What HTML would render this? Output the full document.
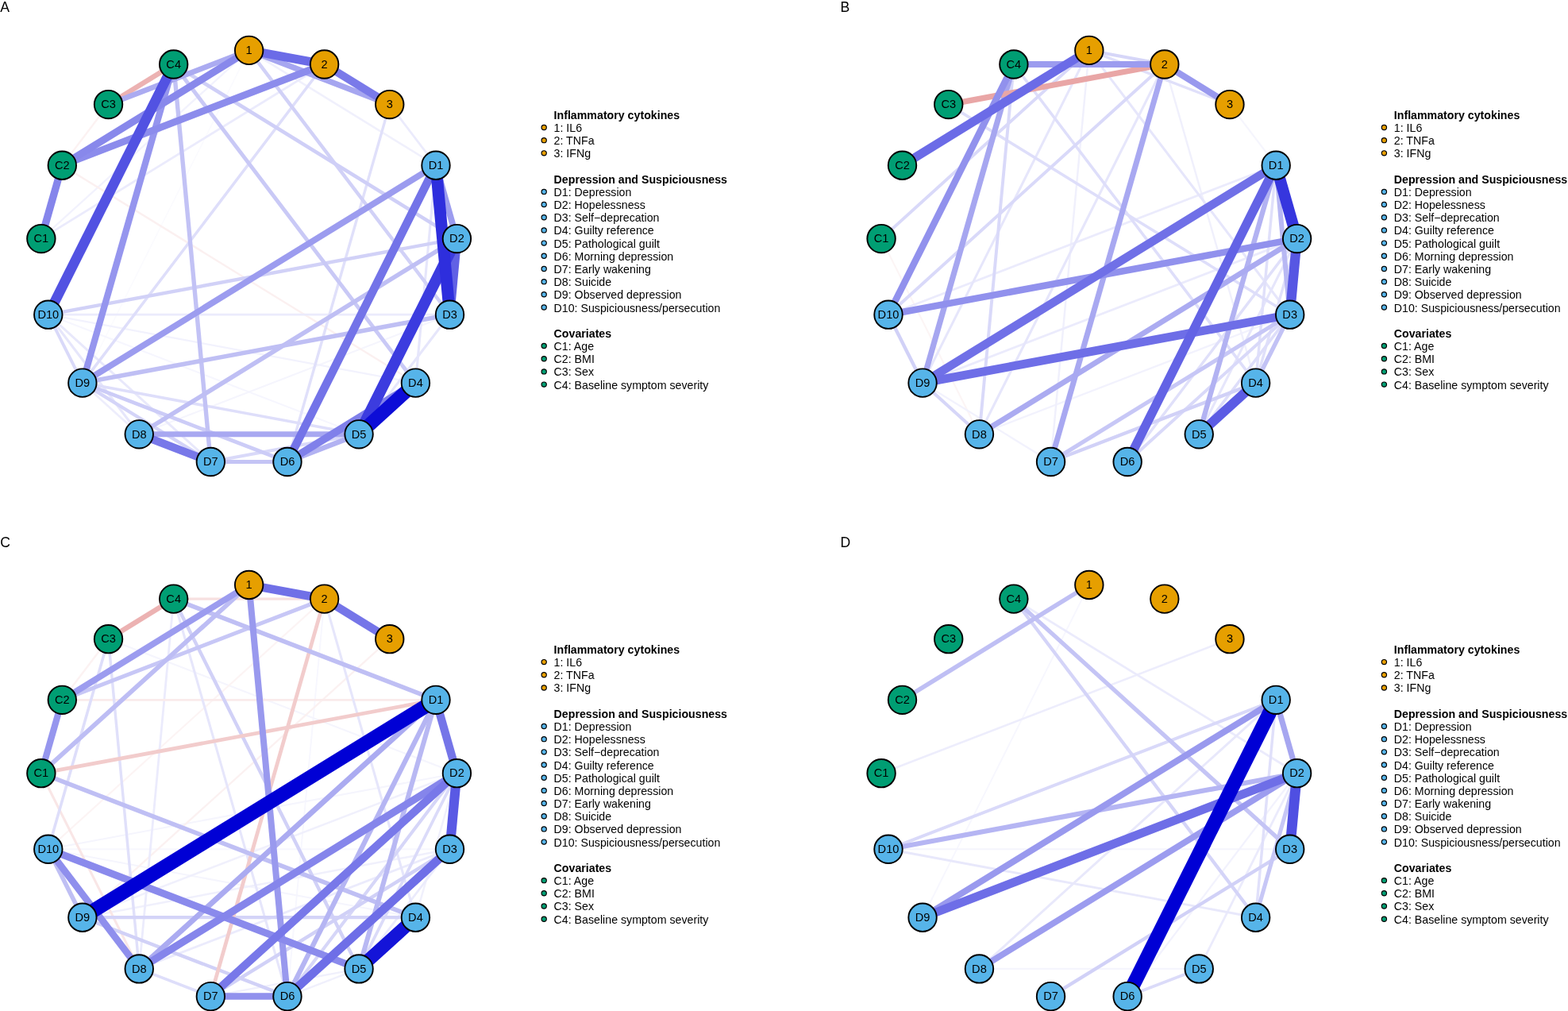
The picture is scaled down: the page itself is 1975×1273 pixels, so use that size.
<!DOCTYPE html>
<html lang="en"><head><meta charset="utf-8"><title>Network figure</title>
<style>html,body{margin:0;padding:0;background:#fff}body{width:1975px;height:1273px;overflow:hidden}svg{display:block}text{font-family:"Liberation Sans",Arial,Helvetica,sans-serif;fill:#000}.n{stroke:#000;stroke-width:1.9}.nl{font-size:14.6px;text-anchor:middle}.lg{font-size:14.20px}.lh{font-size:14.20px;font-weight:bold}.ld{stroke:#000;stroke-width:1.2}.pt{font-size:17.6px}.e{fill:none;stroke-linecap:butt}</style></head><body>
<svg width="1975" height="1273" viewBox="0 0 1975 1273">
<rect width="1975" height="1273" fill="#fff"/>
<g transform="translate(0,0)">
<text class="pt" x="0.2" y="15.40">A</text>
<g class="e">
<line x1="313.6" y1="63.4" x2="103.9" y2="482.1" stroke="#fbfbfe" stroke-width="1.70"/>
<line x1="452.0" y1="546.8" x2="60.8" y2="396.2" stroke="#f6f6fe" stroke-width="2.03"/>
<line x1="566.5" y1="396.2" x2="175.3" y2="546.8" stroke="#f5f5fd" stroke-width="2.11"/>
<line x1="523.4" y1="482.1" x2="60.8" y2="396.2" stroke="#f2f2fd" stroke-width="2.27"/>
<line x1="78.3" y1="208.2" x2="136.5" y2="131.6" stroke="#fcf2f2" stroke-width="2.27"/>
<line x1="313.6" y1="63.4" x2="51.9" y2="300.6" stroke="#f2f2fd" stroke-width="2.27"/>
<line x1="313.6" y1="63.4" x2="549.0" y2="208.2" stroke="#f0f0fc" stroke-width="2.44"/>
<line x1="78.3" y1="208.2" x2="523.4" y2="482.1" stroke="#fbf0f0" stroke-width="2.44"/>
<line x1="175.3" y1="546.8" x2="103.9" y2="482.1" stroke="#ededfc" stroke-width="2.60"/>
<line x1="566.5" y1="396.2" x2="60.8" y2="396.2" stroke="#ebebfc" stroke-width="2.77"/>
<line x1="490.8" y1="131.6" x2="549.0" y2="208.2" stroke="#ebebfc" stroke-width="2.77"/>
<line x1="408.6" y1="81.0" x2="51.9" y2="300.6" stroke="#ebebfc" stroke-width="2.77"/>
<line x1="265.3" y1="581.5" x2="60.8" y2="396.2" stroke="#e8e8fb" stroke-width="2.93"/>
<line x1="175.3" y1="546.8" x2="60.8" y2="396.2" stroke="#e6e6fb" stroke-width="3.09"/>
<line x1="549.0" y1="208.2" x2="523.4" y2="482.1" stroke="#e6e6fb" stroke-width="3.09"/>
<line x1="566.5" y1="396.2" x2="452.0" y2="546.8" stroke="#e6e6fb" stroke-width="3.09"/>
<line x1="490.8" y1="131.6" x2="362.0" y2="581.5" stroke="#e0e0fa" stroke-width="3.42"/>
<line x1="452.0" y1="546.8" x2="103.9" y2="482.1" stroke="#dedefa" stroke-width="3.59"/>
<line x1="408.6" y1="81.0" x2="103.9" y2="482.1" stroke="#dedefa" stroke-width="3.59"/>
<line x1="452.0" y1="546.8" x2="265.3" y2="581.5" stroke="#d9d9f9" stroke-width="3.92"/>
<line x1="103.9" y1="482.1" x2="60.8" y2="396.2" stroke="#d9d9f9" stroke-width="3.92"/>
<line x1="265.3" y1="581.5" x2="103.9" y2="482.1" stroke="#d4d4f8" stroke-width="4.25"/>
<line x1="313.6" y1="63.4" x2="566.5" y2="396.2" stroke="#d1d1f7" stroke-width="4.41"/>
<line x1="575.4" y1="300.6" x2="60.8" y2="396.2" stroke="#d1d1f7" stroke-width="4.41"/>
<line x1="218.7" y1="81.0" x2="575.4" y2="300.6" stroke="#cfcff7" stroke-width="4.58"/>
<line x1="362.0" y1="581.5" x2="103.9" y2="482.1" stroke="#ccccf7" stroke-width="4.74"/>
<line x1="218.7" y1="81.0" x2="523.4" y2="482.1" stroke="#c9c9f6" stroke-width="4.90"/>
<line x1="362.0" y1="581.5" x2="265.3" y2="581.5" stroke="#c4c4f5" stroke-width="5.23"/>
<line x1="218.7" y1="81.0" x2="265.3" y2="581.5" stroke="#c2c2f5" stroke-width="5.40"/>
<line x1="575.4" y1="300.6" x2="175.3" y2="546.8" stroke="#bfbff4" stroke-width="5.56"/>
<line x1="566.5" y1="396.2" x2="103.9" y2="482.1" stroke="#bfbff4" stroke-width="5.56"/>
<line x1="452.0" y1="546.8" x2="362.0" y2="581.5" stroke="#b2b2f2" stroke-width="6.38"/>
<line x1="136.5" y1="131.6" x2="218.7" y2="81.0" stroke="#ecb2b2" stroke-width="6.38"/>
<line x1="313.6" y1="63.4" x2="136.5" y2="131.6" stroke="#ababf1" stroke-width="6.88"/>
<line x1="452.0" y1="546.8" x2="175.3" y2="546.8" stroke="#a8a8f1" stroke-width="7.04"/>
<line x1="313.6" y1="63.4" x2="490.8" y2="131.6" stroke="#a6a6f0" stroke-width="7.21"/>
<line x1="549.0" y1="208.2" x2="103.9" y2="482.1" stroke="#9c9cef" stroke-width="7.87"/>
<line x1="549.0" y1="208.2" x2="575.4" y2="300.6" stroke="#9c9cef" stroke-width="7.87"/>
<line x1="218.7" y1="81.0" x2="103.9" y2="482.1" stroke="#9595ee" stroke-width="8.28"/>
<line x1="408.6" y1="81.0" x2="78.3" y2="208.2" stroke="#8c8cec" stroke-width="8.85"/>
<line x1="313.6" y1="63.4" x2="78.3" y2="208.2" stroke="#8888eb" stroke-width="9.10"/>
<line x1="51.9" y1="300.6" x2="78.3" y2="208.2" stroke="#8585eb" stroke-width="9.35"/>
<line x1="523.4" y1="482.1" x2="362.0" y2="581.5" stroke="#8080ea" stroke-width="9.67"/>
<line x1="408.6" y1="81.0" x2="490.8" y2="131.6" stroke="#7a7ae9" stroke-width="10.00"/>
<line x1="265.3" y1="581.5" x2="175.3" y2="546.8" stroke="#7878e9" stroke-width="10.17"/>
<line x1="549.0" y1="208.2" x2="362.0" y2="581.5" stroke="#7373e8" stroke-width="10.50"/>
<line x1="313.6" y1="63.4" x2="408.6" y2="81.0" stroke="#6b6be7" stroke-width="10.99"/>
<line x1="575.4" y1="300.6" x2="566.5" y2="396.2" stroke="#6161e5" stroke-width="11.65"/>
<line x1="218.7" y1="81.0" x2="60.8" y2="396.2" stroke="#5252e2" stroke-width="12.64"/>
<line x1="575.4" y1="300.6" x2="452.0" y2="546.8" stroke="#3c3cdf" stroke-width="14.03"/>
<line x1="549.0" y1="208.2" x2="566.5" y2="396.2" stroke="#2e2edd" stroke-width="14.94"/>
<line x1="523.4" y1="482.1" x2="452.0" y2="546.8" stroke="#0d0dd7" stroke-width="17.08"/>
</g>
<circle class="n" cx="313.65" cy="63.38" r="17.73" fill="#E69F00"/>
<text class="nl" x="313.65" y="68.08">1</text>
<circle class="n" cx="408.62" cy="81.03" r="17.73" fill="#E69F00"/>
<text class="nl" x="408.62" y="85.73">2</text>
<circle class="n" cx="490.76" cy="131.58" r="17.73" fill="#E69F00"/>
<text class="nl" x="490.76" y="136.28">3</text>
<circle class="n" cx="548.99" cy="208.21" r="17.73" fill="#56B4E9"/>
<text class="nl" x="548.99" y="212.91">D1</text>
<circle class="n" cx="575.43" cy="300.57" r="17.73" fill="#56B4E9"/>
<text class="nl" x="575.43" y="305.27">D2</text>
<circle class="n" cx="566.51" cy="396.19" r="17.73" fill="#56B4E9"/>
<text class="nl" x="566.51" y="400.89">D3</text>
<circle class="n" cx="523.45" cy="482.15" r="17.73" fill="#56B4E9"/>
<text class="nl" x="523.45" y="486.85">D4</text>
<circle class="n" cx="452.05" cy="546.84" r="17.73" fill="#56B4E9"/>
<text class="nl" x="452.05" y="551.54">D5</text>
<circle class="n" cx="361.96" cy="581.53" r="17.73" fill="#56B4E9"/>
<text class="nl" x="361.96" y="586.23">D6</text>
<circle class="n" cx="265.34" cy="581.53" r="17.73" fill="#56B4E9"/>
<text class="nl" x="265.34" y="586.23">D7</text>
<circle class="n" cx="175.25" cy="546.84" r="17.73" fill="#56B4E9"/>
<text class="nl" x="175.25" y="551.54">D8</text>
<circle class="n" cx="103.85" cy="482.15" r="17.73" fill="#56B4E9"/>
<text class="nl" x="103.85" y="486.85">D9</text>
<circle class="n" cx="60.79" cy="396.19" r="17.73" fill="#56B4E9"/>
<text class="nl" x="60.79" y="400.89">D10</text>
<circle class="n" cx="51.87" cy="300.57" r="17.73" fill="#009E73"/>
<text class="nl" x="51.87" y="305.27">C1</text>
<circle class="n" cx="78.31" cy="208.21" r="17.73" fill="#009E73"/>
<text class="nl" x="78.31" y="212.91">C2</text>
<circle class="n" cx="136.54" cy="131.58" r="17.73" fill="#009E73"/>
<text class="nl" x="136.54" y="136.28">C3</text>
<circle class="n" cx="218.68" cy="81.03" r="17.73" fill="#009E73"/>
<text class="nl" x="218.68" y="85.73">C4</text>
<text class="lh" x="697.6" y="149.80">Inflammatory cytokines</text>
<circle class="ld" cx="685.2" cy="160.48" r="3.1" fill="#E69F00"/>
<text class="lg" x="697.6" y="165.98">1: IL6</text>
<circle class="ld" cx="685.2" cy="176.66" r="3.1" fill="#E69F00"/>
<text class="lg" x="697.6" y="182.16">2: TNFa</text>
<circle class="ld" cx="685.2" cy="192.84" r="3.1" fill="#E69F00"/>
<text class="lg" x="697.6" y="198.34">3: IFNg</text>
<text class="lh" x="697.6" y="230.70">Depression and Suspiciousness</text>
<circle class="ld" cx="685.2" cy="241.38" r="3.1" fill="#56B4E9"/>
<text class="lg" x="697.6" y="246.88">D1: Depression</text>
<circle class="ld" cx="685.2" cy="257.56" r="3.1" fill="#56B4E9"/>
<text class="lg" x="697.6" y="263.06">D2: Hopelessness</text>
<circle class="ld" cx="685.2" cy="273.74" r="3.1" fill="#56B4E9"/>
<text class="lg" x="697.6" y="279.24">D3: Self−deprecation</text>
<circle class="ld" cx="685.2" cy="289.92" r="3.1" fill="#56B4E9"/>
<text class="lg" x="697.6" y="295.42">D4: Guilty reference</text>
<circle class="ld" cx="685.2" cy="306.10" r="3.1" fill="#56B4E9"/>
<text class="lg" x="697.6" y="311.60">D5: Pathological guilt</text>
<circle class="ld" cx="685.2" cy="322.28" r="3.1" fill="#56B4E9"/>
<text class="lg" x="697.6" y="327.78">D6: Morning depression</text>
<circle class="ld" cx="685.2" cy="338.46" r="3.1" fill="#56B4E9"/>
<text class="lg" x="697.6" y="343.96">D7: Early wakening</text>
<circle class="ld" cx="685.2" cy="354.64" r="3.1" fill="#56B4E9"/>
<text class="lg" x="697.6" y="360.14">D8: Suicide</text>
<circle class="ld" cx="685.2" cy="370.82" r="3.1" fill="#56B4E9"/>
<text class="lg" x="697.6" y="376.32">D9: Observed depression</text>
<circle class="ld" cx="685.2" cy="387.00" r="3.1" fill="#56B4E9"/>
<text class="lg" x="697.6" y="392.50">D10: Suspiciousness/persecution</text>
<text class="lh" x="697.6" y="424.86">Covariates</text>
<circle class="ld" cx="685.2" cy="435.54" r="3.1" fill="#009E73"/>
<text class="lg" x="697.6" y="441.04">C1: Age</text>
<circle class="ld" cx="685.2" cy="451.72" r="3.1" fill="#009E73"/>
<text class="lg" x="697.6" y="457.22">C2: BMI</text>
<circle class="ld" cx="685.2" cy="467.90" r="3.1" fill="#009E73"/>
<text class="lg" x="697.6" y="473.40">C3: Sex</text>
<circle class="ld" cx="685.2" cy="484.08" r="3.1" fill="#009E73"/>
<text class="lg" x="697.6" y="489.58">C4: Baseline symptom severity</text>
</g>
<g transform="translate(1058.2,0)">
<text class="pt" x="0.2" y="15.40">B</text>
<g class="e">
<line x1="51.9" y1="300.6" x2="175.3" y2="546.8" stroke="#fcf5f5" stroke-width="2.11"/>
<line x1="490.8" y1="131.6" x2="549.0" y2="208.2" stroke="#f5f5fd" stroke-width="2.11"/>
<line x1="566.5" y1="396.2" x2="175.3" y2="546.8" stroke="#f2f2fd" stroke-width="2.27"/>
<line x1="265.3" y1="581.5" x2="103.9" y2="482.1" stroke="#f2f2fd" stroke-width="2.27"/>
<line x1="313.6" y1="63.4" x2="265.3" y2="581.5" stroke="#f0f0fc" stroke-width="2.44"/>
<line x1="408.6" y1="81.0" x2="523.4" y2="482.1" stroke="#f0f0fc" stroke-width="2.44"/>
<line x1="549.0" y1="208.2" x2="60.8" y2="396.2" stroke="#ebebfc" stroke-width="2.77"/>
<line x1="575.4" y1="300.6" x2="103.9" y2="482.1" stroke="#ebebfc" stroke-width="2.77"/>
<line x1="313.6" y1="63.4" x2="103.9" y2="482.1" stroke="#e6e6fb" stroke-width="3.09"/>
<line x1="313.6" y1="63.4" x2="566.5" y2="396.2" stroke="#e6e6fb" stroke-width="3.09"/>
<line x1="408.6" y1="81.0" x2="175.3" y2="546.8" stroke="#e6e6fb" stroke-width="3.09"/>
<line x1="575.4" y1="300.6" x2="452.0" y2="546.8" stroke="#e6e6fb" stroke-width="3.09"/>
<line x1="549.0" y1="208.2" x2="523.4" y2="482.1" stroke="#e0e0fa" stroke-width="3.42"/>
<line x1="313.6" y1="63.4" x2="490.8" y2="131.6" stroke="#e0e0fa" stroke-width="3.42"/>
<line x1="575.4" y1="300.6" x2="362.0" y2="581.5" stroke="#e0e0fa" stroke-width="3.42"/>
<line x1="575.4" y1="300.6" x2="523.4" y2="482.1" stroke="#e0e0fa" stroke-width="3.42"/>
<line x1="136.5" y1="131.6" x2="566.5" y2="396.2" stroke="#dedefa" stroke-width="3.59"/>
<line x1="218.7" y1="81.0" x2="523.4" y2="482.1" stroke="#dedefa" stroke-width="3.59"/>
<line x1="566.5" y1="396.2" x2="452.0" y2="546.8" stroke="#dedefa" stroke-width="3.59"/>
<line x1="313.6" y1="63.4" x2="51.9" y2="300.6" stroke="#d9d9f9" stroke-width="3.92"/>
<line x1="218.7" y1="81.0" x2="175.3" y2="546.8" stroke="#d9d9f9" stroke-width="3.92"/>
<line x1="408.6" y1="81.0" x2="60.8" y2="396.2" stroke="#d9d9f9" stroke-width="3.92"/>
<line x1="566.5" y1="396.2" x2="362.0" y2="581.5" stroke="#d9d9f9" stroke-width="3.92"/>
<line x1="313.6" y1="63.4" x2="408.6" y2="81.0" stroke="#d6d6f8" stroke-width="4.08"/>
<line x1="175.3" y1="546.8" x2="103.9" y2="482.1" stroke="#d6d6f8" stroke-width="4.08"/>
<line x1="523.4" y1="482.1" x2="265.3" y2="581.5" stroke="#d1d1f7" stroke-width="4.41"/>
<line x1="103.9" y1="482.1" x2="60.8" y2="396.2" stroke="#d1d1f7" stroke-width="4.41"/>
<line x1="566.5" y1="396.2" x2="265.3" y2="581.5" stroke="#c7c7f6" stroke-width="5.07"/>
<line x1="566.5" y1="396.2" x2="523.4" y2="482.1" stroke="#c2c2f5" stroke-width="5.40"/>
<line x1="549.0" y1="208.2" x2="566.5" y2="396.2" stroke="#b8b8f3" stroke-width="6.06"/>
<line x1="549.0" y1="208.2" x2="452.0" y2="546.8" stroke="#b2b2f2" stroke-width="6.38"/>
<line x1="575.4" y1="300.6" x2="175.3" y2="546.8" stroke="#ababf1" stroke-width="6.88"/>
<line x1="408.6" y1="81.0" x2="265.3" y2="581.5" stroke="#a8a8f1" stroke-width="7.04"/>
<line x1="218.7" y1="81.0" x2="103.9" y2="482.1" stroke="#a6a6f0" stroke-width="7.21"/>
<line x1="408.6" y1="81.0" x2="136.5" y2="131.6" stroke="#e9a6a6" stroke-width="7.21"/>
<line x1="408.6" y1="81.0" x2="218.7" y2="81.0" stroke="#9c9cef" stroke-width="7.87"/>
<line x1="408.6" y1="81.0" x2="490.8" y2="131.6" stroke="#9999ee" stroke-width="8.03"/>
<line x1="575.4" y1="300.6" x2="60.8" y2="396.2" stroke="#9191ed" stroke-width="8.52"/>
<line x1="218.7" y1="81.0" x2="60.8" y2="396.2" stroke="#9191ed" stroke-width="8.52"/>
<line x1="549.0" y1="208.2" x2="103.9" y2="482.1" stroke="#7070e7" stroke-width="10.66"/>
<line x1="566.5" y1="396.2" x2="103.9" y2="482.1" stroke="#6e6ee7" stroke-width="10.83"/>
<line x1="313.6" y1="63.4" x2="78.3" y2="208.2" stroke="#6b6be7" stroke-width="10.99"/>
<line x1="549.0" y1="208.2" x2="362.0" y2="581.5" stroke="#6363e5" stroke-width="11.48"/>
<line x1="523.4" y1="482.1" x2="452.0" y2="546.8" stroke="#5c5ce4" stroke-width="11.98"/>
<line x1="575.4" y1="300.6" x2="566.5" y2="396.2" stroke="#5757e3" stroke-width="12.31"/>
<line x1="549.0" y1="208.2" x2="575.4" y2="300.6" stroke="#3636de" stroke-width="14.45"/>
</g>
<circle class="n" cx="313.65" cy="63.38" r="17.73" fill="#E69F00"/>
<text class="nl" x="313.65" y="68.08">1</text>
<circle class="n" cx="408.62" cy="81.03" r="17.73" fill="#E69F00"/>
<text class="nl" x="408.62" y="85.73">2</text>
<circle class="n" cx="490.76" cy="131.58" r="17.73" fill="#E69F00"/>
<text class="nl" x="490.76" y="136.28">3</text>
<circle class="n" cx="548.99" cy="208.21" r="17.73" fill="#56B4E9"/>
<text class="nl" x="548.99" y="212.91">D1</text>
<circle class="n" cx="575.43" cy="300.57" r="17.73" fill="#56B4E9"/>
<text class="nl" x="575.43" y="305.27">D2</text>
<circle class="n" cx="566.51" cy="396.19" r="17.73" fill="#56B4E9"/>
<text class="nl" x="566.51" y="400.89">D3</text>
<circle class="n" cx="523.45" cy="482.15" r="17.73" fill="#56B4E9"/>
<text class="nl" x="523.45" y="486.85">D4</text>
<circle class="n" cx="452.05" cy="546.84" r="17.73" fill="#56B4E9"/>
<text class="nl" x="452.05" y="551.54">D5</text>
<circle class="n" cx="361.96" cy="581.53" r="17.73" fill="#56B4E9"/>
<text class="nl" x="361.96" y="586.23">D6</text>
<circle class="n" cx="265.34" cy="581.53" r="17.73" fill="#56B4E9"/>
<text class="nl" x="265.34" y="586.23">D7</text>
<circle class="n" cx="175.25" cy="546.84" r="17.73" fill="#56B4E9"/>
<text class="nl" x="175.25" y="551.54">D8</text>
<circle class="n" cx="103.85" cy="482.15" r="17.73" fill="#56B4E9"/>
<text class="nl" x="103.85" y="486.85">D9</text>
<circle class="n" cx="60.79" cy="396.19" r="17.73" fill="#56B4E9"/>
<text class="nl" x="60.79" y="400.89">D10</text>
<circle class="n" cx="51.87" cy="300.57" r="17.73" fill="#009E73"/>
<text class="nl" x="51.87" y="305.27">C1</text>
<circle class="n" cx="78.31" cy="208.21" r="17.73" fill="#009E73"/>
<text class="nl" x="78.31" y="212.91">C2</text>
<circle class="n" cx="136.54" cy="131.58" r="17.73" fill="#009E73"/>
<text class="nl" x="136.54" y="136.28">C3</text>
<circle class="n" cx="218.68" cy="81.03" r="17.73" fill="#009E73"/>
<text class="nl" x="218.68" y="85.73">C4</text>
<text class="lh" x="697.6" y="149.80">Inflammatory cytokines</text>
<circle class="ld" cx="685.2" cy="160.48" r="3.1" fill="#E69F00"/>
<text class="lg" x="697.6" y="165.98">1: IL6</text>
<circle class="ld" cx="685.2" cy="176.66" r="3.1" fill="#E69F00"/>
<text class="lg" x="697.6" y="182.16">2: TNFa</text>
<circle class="ld" cx="685.2" cy="192.84" r="3.1" fill="#E69F00"/>
<text class="lg" x="697.6" y="198.34">3: IFNg</text>
<text class="lh" x="697.6" y="230.70">Depression and Suspiciousness</text>
<circle class="ld" cx="685.2" cy="241.38" r="3.1" fill="#56B4E9"/>
<text class="lg" x="697.6" y="246.88">D1: Depression</text>
<circle class="ld" cx="685.2" cy="257.56" r="3.1" fill="#56B4E9"/>
<text class="lg" x="697.6" y="263.06">D2: Hopelessness</text>
<circle class="ld" cx="685.2" cy="273.74" r="3.1" fill="#56B4E9"/>
<text class="lg" x="697.6" y="279.24">D3: Self−deprecation</text>
<circle class="ld" cx="685.2" cy="289.92" r="3.1" fill="#56B4E9"/>
<text class="lg" x="697.6" y="295.42">D4: Guilty reference</text>
<circle class="ld" cx="685.2" cy="306.10" r="3.1" fill="#56B4E9"/>
<text class="lg" x="697.6" y="311.60">D5: Pathological guilt</text>
<circle class="ld" cx="685.2" cy="322.28" r="3.1" fill="#56B4E9"/>
<text class="lg" x="697.6" y="327.78">D6: Morning depression</text>
<circle class="ld" cx="685.2" cy="338.46" r="3.1" fill="#56B4E9"/>
<text class="lg" x="697.6" y="343.96">D7: Early wakening</text>
<circle class="ld" cx="685.2" cy="354.64" r="3.1" fill="#56B4E9"/>
<text class="lg" x="697.6" y="360.14">D8: Suicide</text>
<circle class="ld" cx="685.2" cy="370.82" r="3.1" fill="#56B4E9"/>
<text class="lg" x="697.6" y="376.32">D9: Observed depression</text>
<circle class="ld" cx="685.2" cy="387.00" r="3.1" fill="#56B4E9"/>
<text class="lg" x="697.6" y="392.50">D10: Suspiciousness/persecution</text>
<text class="lh" x="697.6" y="424.86">Covariates</text>
<circle class="ld" cx="685.2" cy="435.54" r="3.1" fill="#009E73"/>
<text class="lg" x="697.6" y="441.04">C1: Age</text>
<circle class="ld" cx="685.2" cy="451.72" r="3.1" fill="#009E73"/>
<text class="lg" x="697.6" y="457.22">C2: BMI</text>
<circle class="ld" cx="685.2" cy="467.90" r="3.1" fill="#009E73"/>
<text class="lg" x="697.6" y="473.40">C3: Sex</text>
<circle class="ld" cx="685.2" cy="484.08" r="3.1" fill="#009E73"/>
<text class="lg" x="697.6" y="489.58">C4: Baseline symptom severity</text>
</g>
<g transform="translate(0,673.1)">
<text class="pt" x="0.2" y="15.50">C</text>
<g class="e">
<line x1="408.6" y1="81.0" x2="362.0" y2="581.5" stroke="#f7f7fe" stroke-width="1.94"/>
<line x1="566.5" y1="396.2" x2="60.8" y2="396.2" stroke="#f7f7fe" stroke-width="1.94"/>
<line x1="136.5" y1="131.6" x2="575.4" y2="300.6" stroke="#f5f5fd" stroke-width="2.11"/>
<line x1="575.4" y1="300.6" x2="60.8" y2="396.2" stroke="#f5f5fd" stroke-width="2.11"/>
<line x1="523.4" y1="482.1" x2="60.8" y2="396.2" stroke="#f5f5fd" stroke-width="2.11"/>
<line x1="408.6" y1="81.0" x2="60.8" y2="396.2" stroke="#fcf4f4" stroke-width="2.19"/>
<line x1="78.3" y1="208.2" x2="136.5" y2="131.6" stroke="#fcf2f2" stroke-width="2.27"/>
<line x1="490.8" y1="131.6" x2="103.9" y2="482.1" stroke="#fbf1f1" stroke-width="2.35"/>
<line x1="575.4" y1="300.6" x2="523.4" y2="482.1" stroke="#f0f0fc" stroke-width="2.44"/>
<line x1="575.4" y1="300.6" x2="103.9" y2="482.1" stroke="#f0f0fc" stroke-width="2.44"/>
<line x1="566.5" y1="396.2" x2="103.9" y2="482.1" stroke="#f0f0fc" stroke-width="2.44"/>
<line x1="452.0" y1="546.8" x2="362.0" y2="581.5" stroke="#f0f0fc" stroke-width="2.44"/>
<line x1="452.0" y1="546.8" x2="265.3" y2="581.5" stroke="#f0f0fc" stroke-width="2.44"/>
<line x1="218.7" y1="81.0" x2="175.3" y2="546.8" stroke="#ebebfc" stroke-width="2.77"/>
<line x1="566.5" y1="396.2" x2="175.3" y2="546.8" stroke="#ebebfc" stroke-width="2.77"/>
<line x1="566.5" y1="396.2" x2="452.0" y2="546.8" stroke="#ebebfc" stroke-width="2.77"/>
<line x1="78.3" y1="208.2" x2="549.0" y2="208.2" stroke="#faebeb" stroke-width="2.77"/>
<line x1="51.9" y1="300.6" x2="175.3" y2="546.8" stroke="#f9e6e6" stroke-width="3.09"/>
<line x1="408.6" y1="81.0" x2="523.4" y2="482.1" stroke="#e6e6fb" stroke-width="3.09"/>
<line x1="218.7" y1="81.0" x2="362.0" y2="581.5" stroke="#e6e6fb" stroke-width="3.09"/>
<line x1="136.5" y1="131.6" x2="175.3" y2="546.8" stroke="#e0e0fa" stroke-width="3.42"/>
<line x1="408.6" y1="81.0" x2="218.7" y2="81.0" stroke="#f7e0e0" stroke-width="3.42"/>
<line x1="136.5" y1="131.6" x2="60.8" y2="396.2" stroke="#dedefa" stroke-width="3.59"/>
<line x1="265.3" y1="581.5" x2="175.3" y2="546.8" stroke="#dedefa" stroke-width="3.59"/>
<line x1="575.4" y1="300.6" x2="452.0" y2="546.8" stroke="#dbdbf9" stroke-width="3.75"/>
<line x1="575.4" y1="300.6" x2="362.0" y2="581.5" stroke="#d6d6f8" stroke-width="4.08"/>
<line x1="523.4" y1="482.1" x2="103.9" y2="482.1" stroke="#d4d4f8" stroke-width="4.25"/>
<line x1="218.7" y1="81.0" x2="452.0" y2="546.8" stroke="#d1d1f7" stroke-width="4.41"/>
<line x1="566.5" y1="396.2" x2="265.3" y2="581.5" stroke="#d1d1f7" stroke-width="4.41"/>
<line x1="362.0" y1="581.5" x2="103.9" y2="482.1" stroke="#d1d1f7" stroke-width="4.41"/>
<line x1="51.9" y1="300.6" x2="549.0" y2="208.2" stroke="#f2cccc" stroke-width="4.74"/>
<line x1="408.6" y1="81.0" x2="265.3" y2="581.5" stroke="#f2cccc" stroke-width="4.74"/>
<line x1="408.6" y1="81.0" x2="78.3" y2="208.2" stroke="#c7c7f6" stroke-width="5.07"/>
<line x1="51.9" y1="300.6" x2="523.4" y2="482.1" stroke="#bfbff4" stroke-width="5.56"/>
<line x1="218.7" y1="81.0" x2="549.0" y2="208.2" stroke="#bfbff4" stroke-width="5.56"/>
<line x1="103.9" y1="482.1" x2="60.8" y2="396.2" stroke="#bfbff4" stroke-width="5.56"/>
<line x1="313.6" y1="63.4" x2="51.9" y2="300.6" stroke="#bdbdf4" stroke-width="5.73"/>
<line x1="549.0" y1="208.2" x2="452.0" y2="546.8" stroke="#b8b8f3" stroke-width="6.06"/>
<line x1="549.0" y1="208.2" x2="362.0" y2="581.5" stroke="#b5b5f3" stroke-width="6.22"/>
<line x1="136.5" y1="131.6" x2="218.7" y2="81.0" stroke="#ecb2b2" stroke-width="6.38"/>
<line x1="549.0" y1="208.2" x2="175.3" y2="546.8" stroke="#ababf1" stroke-width="6.88"/>
<line x1="313.6" y1="63.4" x2="78.3" y2="208.2" stroke="#9c9cef" stroke-width="7.87"/>
<line x1="313.6" y1="63.4" x2="362.0" y2="581.5" stroke="#9999ee" stroke-width="8.03"/>
<line x1="51.9" y1="300.6" x2="78.3" y2="208.2" stroke="#9696ee" stroke-width="8.19"/>
<line x1="362.0" y1="581.5" x2="265.3" y2="581.5" stroke="#9191ed" stroke-width="8.52"/>
<line x1="175.3" y1="546.8" x2="60.8" y2="396.2" stroke="#8f8fed" stroke-width="8.69"/>
<line x1="452.0" y1="546.8" x2="60.8" y2="396.2" stroke="#8a8aec" stroke-width="9.02"/>
<line x1="575.4" y1="300.6" x2="175.3" y2="546.8" stroke="#8585eb" stroke-width="9.35"/>
<line x1="575.4" y1="300.6" x2="265.3" y2="581.5" stroke="#7878e9" stroke-width="10.17"/>
<line x1="408.6" y1="81.0" x2="490.8" y2="131.6" stroke="#7575e8" stroke-width="10.33"/>
<line x1="549.0" y1="208.2" x2="575.4" y2="300.6" stroke="#7575e8" stroke-width="10.33"/>
<line x1="313.6" y1="63.4" x2="408.6" y2="81.0" stroke="#7070e7" stroke-width="10.66"/>
<line x1="566.5" y1="396.2" x2="362.0" y2="581.5" stroke="#6e6ee7" stroke-width="10.83"/>
<line x1="575.4" y1="300.6" x2="566.5" y2="396.2" stroke="#5959e4" stroke-width="12.14"/>
<line x1="523.4" y1="482.1" x2="452.0" y2="546.8" stroke="#1414d8" stroke-width="16.58"/>
<line x1="549.0" y1="208.2" x2="103.9" y2="482.1" stroke="#0000d5" stroke-width="17.90"/>
</g>
<circle class="n" cx="313.65" cy="63.38" r="17.73" fill="#E69F00"/>
<text class="nl" x="313.65" y="68.08">1</text>
<circle class="n" cx="408.62" cy="81.03" r="17.73" fill="#E69F00"/>
<text class="nl" x="408.62" y="85.73">2</text>
<circle class="n" cx="490.76" cy="131.58" r="17.73" fill="#E69F00"/>
<text class="nl" x="490.76" y="136.28">3</text>
<circle class="n" cx="548.99" cy="208.21" r="17.73" fill="#56B4E9"/>
<text class="nl" x="548.99" y="212.91">D1</text>
<circle class="n" cx="575.43" cy="300.57" r="17.73" fill="#56B4E9"/>
<text class="nl" x="575.43" y="305.27">D2</text>
<circle class="n" cx="566.51" cy="396.19" r="17.73" fill="#56B4E9"/>
<text class="nl" x="566.51" y="400.89">D3</text>
<circle class="n" cx="523.45" cy="482.15" r="17.73" fill="#56B4E9"/>
<text class="nl" x="523.45" y="486.85">D4</text>
<circle class="n" cx="452.05" cy="546.84" r="17.73" fill="#56B4E9"/>
<text class="nl" x="452.05" y="551.54">D5</text>
<circle class="n" cx="361.96" cy="581.53" r="17.73" fill="#56B4E9"/>
<text class="nl" x="361.96" y="586.23">D6</text>
<circle class="n" cx="265.34" cy="581.53" r="17.73" fill="#56B4E9"/>
<text class="nl" x="265.34" y="586.23">D7</text>
<circle class="n" cx="175.25" cy="546.84" r="17.73" fill="#56B4E9"/>
<text class="nl" x="175.25" y="551.54">D8</text>
<circle class="n" cx="103.85" cy="482.15" r="17.73" fill="#56B4E9"/>
<text class="nl" x="103.85" y="486.85">D9</text>
<circle class="n" cx="60.79" cy="396.19" r="17.73" fill="#56B4E9"/>
<text class="nl" x="60.79" y="400.89">D10</text>
<circle class="n" cx="51.87" cy="300.57" r="17.73" fill="#009E73"/>
<text class="nl" x="51.87" y="305.27">C1</text>
<circle class="n" cx="78.31" cy="208.21" r="17.73" fill="#009E73"/>
<text class="nl" x="78.31" y="212.91">C2</text>
<circle class="n" cx="136.54" cy="131.58" r="17.73" fill="#009E73"/>
<text class="nl" x="136.54" y="136.28">C3</text>
<circle class="n" cx="218.68" cy="81.03" r="17.73" fill="#009E73"/>
<text class="nl" x="218.68" y="85.73">C4</text>
<text class="lh" x="697.6" y="149.80">Inflammatory cytokines</text>
<circle class="ld" cx="685.2" cy="160.48" r="3.1" fill="#E69F00"/>
<text class="lg" x="697.6" y="165.98">1: IL6</text>
<circle class="ld" cx="685.2" cy="176.66" r="3.1" fill="#E69F00"/>
<text class="lg" x="697.6" y="182.16">2: TNFa</text>
<circle class="ld" cx="685.2" cy="192.84" r="3.1" fill="#E69F00"/>
<text class="lg" x="697.6" y="198.34">3: IFNg</text>
<text class="lh" x="697.6" y="230.70">Depression and Suspiciousness</text>
<circle class="ld" cx="685.2" cy="241.38" r="3.1" fill="#56B4E9"/>
<text class="lg" x="697.6" y="246.88">D1: Depression</text>
<circle class="ld" cx="685.2" cy="257.56" r="3.1" fill="#56B4E9"/>
<text class="lg" x="697.6" y="263.06">D2: Hopelessness</text>
<circle class="ld" cx="685.2" cy="273.74" r="3.1" fill="#56B4E9"/>
<text class="lg" x="697.6" y="279.24">D3: Self−deprecation</text>
<circle class="ld" cx="685.2" cy="289.92" r="3.1" fill="#56B4E9"/>
<text class="lg" x="697.6" y="295.42">D4: Guilty reference</text>
<circle class="ld" cx="685.2" cy="306.10" r="3.1" fill="#56B4E9"/>
<text class="lg" x="697.6" y="311.60">D5: Pathological guilt</text>
<circle class="ld" cx="685.2" cy="322.28" r="3.1" fill="#56B4E9"/>
<text class="lg" x="697.6" y="327.78">D6: Morning depression</text>
<circle class="ld" cx="685.2" cy="338.46" r="3.1" fill="#56B4E9"/>
<text class="lg" x="697.6" y="343.96">D7: Early wakening</text>
<circle class="ld" cx="685.2" cy="354.64" r="3.1" fill="#56B4E9"/>
<text class="lg" x="697.6" y="360.14">D8: Suicide</text>
<circle class="ld" cx="685.2" cy="370.82" r="3.1" fill="#56B4E9"/>
<text class="lg" x="697.6" y="376.32">D9: Observed depression</text>
<circle class="ld" cx="685.2" cy="387.00" r="3.1" fill="#56B4E9"/>
<text class="lg" x="697.6" y="392.50">D10: Suspiciousness/persecution</text>
<text class="lh" x="697.6" y="424.86">Covariates</text>
<circle class="ld" cx="685.2" cy="435.54" r="3.1" fill="#009E73"/>
<text class="lg" x="697.6" y="441.04">C1: Age</text>
<circle class="ld" cx="685.2" cy="451.72" r="3.1" fill="#009E73"/>
<text class="lg" x="697.6" y="457.22">C2: BMI</text>
<circle class="ld" cx="685.2" cy="467.90" r="3.1" fill="#009E73"/>
<text class="lg" x="697.6" y="473.40">C3: Sex</text>
<circle class="ld" cx="685.2" cy="484.08" r="3.1" fill="#009E73"/>
<text class="lg" x="697.6" y="489.58">C4: Baseline symptom severity</text>
</g>
<g transform="translate(1058.2,673.1)">
<text class="pt" x="0.2" y="15.50">D</text>
<g class="e">
<line x1="313.6" y1="63.4" x2="103.9" y2="482.1" stroke="#f7f7fe" stroke-width="1.94"/>
<line x1="566.5" y1="396.2" x2="60.8" y2="396.2" stroke="#f5f5fd" stroke-width="2.11"/>
<line x1="452.0" y1="546.8" x2="175.3" y2="546.8" stroke="#f5f5fd" stroke-width="2.11"/>
<line x1="575.4" y1="300.6" x2="362.0" y2="581.5" stroke="#f2f2fd" stroke-width="2.27"/>
<line x1="490.8" y1="131.6" x2="51.9" y2="300.6" stroke="#ededfc" stroke-width="2.60"/>
<line x1="218.7" y1="81.0" x2="575.4" y2="300.6" stroke="#ebebfc" stroke-width="2.77"/>
<line x1="575.4" y1="300.6" x2="452.0" y2="546.8" stroke="#ebebfc" stroke-width="2.77"/>
<line x1="549.0" y1="208.2" x2="175.3" y2="546.8" stroke="#e8e8fb" stroke-width="2.93"/>
<line x1="523.4" y1="482.1" x2="60.8" y2="396.2" stroke="#e8e8fb" stroke-width="2.93"/>
<line x1="549.0" y1="208.2" x2="523.4" y2="482.1" stroke="#e0e0fa" stroke-width="3.42"/>
<line x1="452.0" y1="546.8" x2="362.0" y2="581.5" stroke="#dbdbf9" stroke-width="3.75"/>
<line x1="549.0" y1="208.2" x2="60.8" y2="396.2" stroke="#d9d9f9" stroke-width="3.92"/>
<line x1="218.7" y1="81.0" x2="523.4" y2="482.1" stroke="#d4d4f8" stroke-width="4.25"/>
<line x1="566.5" y1="396.2" x2="265.3" y2="581.5" stroke="#d1d1f7" stroke-width="4.41"/>
<line x1="575.4" y1="300.6" x2="523.4" y2="482.1" stroke="#c7c7f6" stroke-width="5.07"/>
<line x1="218.7" y1="81.0" x2="566.5" y2="396.2" stroke="#c4c4f5" stroke-width="5.23"/>
<line x1="313.6" y1="63.4" x2="78.3" y2="208.2" stroke="#bfbff4" stroke-width="5.56"/>
<line x1="575.4" y1="300.6" x2="60.8" y2="396.2" stroke="#b5b5f3" stroke-width="6.22"/>
<line x1="549.0" y1="208.2" x2="575.4" y2="300.6" stroke="#a6a6f0" stroke-width="7.21"/>
<line x1="575.4" y1="300.6" x2="175.3" y2="546.8" stroke="#9c9cef" stroke-width="7.87"/>
<line x1="549.0" y1="208.2" x2="103.9" y2="482.1" stroke="#9999ee" stroke-width="8.03"/>
<line x1="575.4" y1="300.6" x2="103.9" y2="482.1" stroke="#6e6ee7" stroke-width="10.83"/>
<line x1="575.4" y1="300.6" x2="566.5" y2="396.2" stroke="#4f4fe2" stroke-width="12.80"/>
<line x1="549.0" y1="208.2" x2="362.0" y2="581.5" stroke="#0000d5" stroke-width="17.90"/>
</g>
<circle class="n" cx="313.65" cy="63.38" r="17.73" fill="#E69F00"/>
<text class="nl" x="313.65" y="68.08">1</text>
<circle class="n" cx="408.62" cy="81.03" r="17.73" fill="#E69F00"/>
<text class="nl" x="408.62" y="85.73">2</text>
<circle class="n" cx="490.76" cy="131.58" r="17.73" fill="#E69F00"/>
<text class="nl" x="490.76" y="136.28">3</text>
<circle class="n" cx="548.99" cy="208.21" r="17.73" fill="#56B4E9"/>
<text class="nl" x="548.99" y="212.91">D1</text>
<circle class="n" cx="575.43" cy="300.57" r="17.73" fill="#56B4E9"/>
<text class="nl" x="575.43" y="305.27">D2</text>
<circle class="n" cx="566.51" cy="396.19" r="17.73" fill="#56B4E9"/>
<text class="nl" x="566.51" y="400.89">D3</text>
<circle class="n" cx="523.45" cy="482.15" r="17.73" fill="#56B4E9"/>
<text class="nl" x="523.45" y="486.85">D4</text>
<circle class="n" cx="452.05" cy="546.84" r="17.73" fill="#56B4E9"/>
<text class="nl" x="452.05" y="551.54">D5</text>
<circle class="n" cx="361.96" cy="581.53" r="17.73" fill="#56B4E9"/>
<text class="nl" x="361.96" y="586.23">D6</text>
<circle class="n" cx="265.34" cy="581.53" r="17.73" fill="#56B4E9"/>
<text class="nl" x="265.34" y="586.23">D7</text>
<circle class="n" cx="175.25" cy="546.84" r="17.73" fill="#56B4E9"/>
<text class="nl" x="175.25" y="551.54">D8</text>
<circle class="n" cx="103.85" cy="482.15" r="17.73" fill="#56B4E9"/>
<text class="nl" x="103.85" y="486.85">D9</text>
<circle class="n" cx="60.79" cy="396.19" r="17.73" fill="#56B4E9"/>
<text class="nl" x="60.79" y="400.89">D10</text>
<circle class="n" cx="51.87" cy="300.57" r="17.73" fill="#009E73"/>
<text class="nl" x="51.87" y="305.27">C1</text>
<circle class="n" cx="78.31" cy="208.21" r="17.73" fill="#009E73"/>
<text class="nl" x="78.31" y="212.91">C2</text>
<circle class="n" cx="136.54" cy="131.58" r="17.73" fill="#009E73"/>
<text class="nl" x="136.54" y="136.28">C3</text>
<circle class="n" cx="218.68" cy="81.03" r="17.73" fill="#009E73"/>
<text class="nl" x="218.68" y="85.73">C4</text>
<text class="lh" x="697.6" y="149.80">Inflammatory cytokines</text>
<circle class="ld" cx="685.2" cy="160.48" r="3.1" fill="#E69F00"/>
<text class="lg" x="697.6" y="165.98">1: IL6</text>
<circle class="ld" cx="685.2" cy="176.66" r="3.1" fill="#E69F00"/>
<text class="lg" x="697.6" y="182.16">2: TNFa</text>
<circle class="ld" cx="685.2" cy="192.84" r="3.1" fill="#E69F00"/>
<text class="lg" x="697.6" y="198.34">3: IFNg</text>
<text class="lh" x="697.6" y="230.70">Depression and Suspiciousness</text>
<circle class="ld" cx="685.2" cy="241.38" r="3.1" fill="#56B4E9"/>
<text class="lg" x="697.6" y="246.88">D1: Depression</text>
<circle class="ld" cx="685.2" cy="257.56" r="3.1" fill="#56B4E9"/>
<text class="lg" x="697.6" y="263.06">D2: Hopelessness</text>
<circle class="ld" cx="685.2" cy="273.74" r="3.1" fill="#56B4E9"/>
<text class="lg" x="697.6" y="279.24">D3: Self−deprecation</text>
<circle class="ld" cx="685.2" cy="289.92" r="3.1" fill="#56B4E9"/>
<text class="lg" x="697.6" y="295.42">D4: Guilty reference</text>
<circle class="ld" cx="685.2" cy="306.10" r="3.1" fill="#56B4E9"/>
<text class="lg" x="697.6" y="311.60">D5: Pathological guilt</text>
<circle class="ld" cx="685.2" cy="322.28" r="3.1" fill="#56B4E9"/>
<text class="lg" x="697.6" y="327.78">D6: Morning depression</text>
<circle class="ld" cx="685.2" cy="338.46" r="3.1" fill="#56B4E9"/>
<text class="lg" x="697.6" y="343.96">D7: Early wakening</text>
<circle class="ld" cx="685.2" cy="354.64" r="3.1" fill="#56B4E9"/>
<text class="lg" x="697.6" y="360.14">D8: Suicide</text>
<circle class="ld" cx="685.2" cy="370.82" r="3.1" fill="#56B4E9"/>
<text class="lg" x="697.6" y="376.32">D9: Observed depression</text>
<circle class="ld" cx="685.2" cy="387.00" r="3.1" fill="#56B4E9"/>
<text class="lg" x="697.6" y="392.50">D10: Suspiciousness/persecution</text>
<text class="lh" x="697.6" y="424.86">Covariates</text>
<circle class="ld" cx="685.2" cy="435.54" r="3.1" fill="#009E73"/>
<text class="lg" x="697.6" y="441.04">C1: Age</text>
<circle class="ld" cx="685.2" cy="451.72" r="3.1" fill="#009E73"/>
<text class="lg" x="697.6" y="457.22">C2: BMI</text>
<circle class="ld" cx="685.2" cy="467.90" r="3.1" fill="#009E73"/>
<text class="lg" x="697.6" y="473.40">C3: Sex</text>
<circle class="ld" cx="685.2" cy="484.08" r="3.1" fill="#009E73"/>
<text class="lg" x="697.6" y="489.58">C4: Baseline symptom severity</text>
</g>
</svg></body></html>
